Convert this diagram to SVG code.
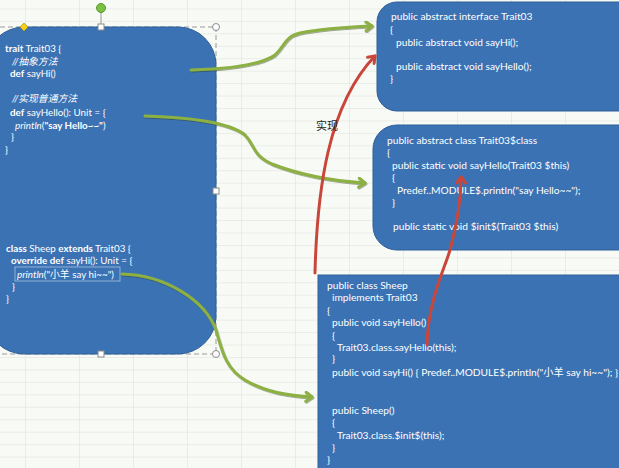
<svg xmlns="http://www.w3.org/2000/svg" width="619" height="468" viewBox="0 0 619 468">
<defs>
<pattern id="grid" x="25" y="8.4" width="54" height="12.45" patternUnits="userSpaceOnUse">
<rect width="54" height="12.45" fill="#f8faf6"/>
<path d="M0,0 H54 M0,0 V12.45" stroke="#dcdedb" stroke-width="1" fill="none"/>
</pattern>
<marker id="ag" viewBox="0 0 12 12" refX="9" refY="6" markerWidth="12" markerHeight="12" markerUnits="userSpaceOnUse" orient="auto">
<polyline points="3,1.5 9,6 3,10.5" fill="none" stroke="#8cb043" stroke-width="3" stroke-linecap="round" stroke-linejoin="round"/>
</marker>
<marker id="ar" viewBox="0 0 12 12" refX="9" refY="6" markerWidth="12" markerHeight="12" markerUnits="userSpaceOnUse" orient="auto">
<polyline points="3,1.5 9,6 3,10.5" fill="none" stroke="#c9473a" stroke-width="3" stroke-linecap="round" stroke-linejoin="round"/>
</marker>
<filter id="sh" x="-10%" y="-10%" width="120%" height="130%">
<feDropShadow dx="0.6" dy="1" stdDeviation="0.6" flood-color="#2f3a14" flood-opacity="0.45"/>
</filter>
</defs>
<style>
.node{fill:#3b72b4;stroke:#2e5e97;stroke-width:1}
.t{font-family:Lato,"Noto Sans","Noto Sans CJK SC",sans-serif;font-size:10.2px;fill:#ffffff}
.s{font-size:9.8px}
.b{font-weight:bold}
.i{font-style:italic}
.g{fill:none;stroke:#8cb043;stroke-width:3;stroke-linecap:round;filter:url(#sh)}
.r{fill:none;stroke:#c9473a;stroke-width:3;stroke-linecap:round}
.sel{fill:none;stroke:#9a9a9a;stroke-width:1;stroke-dasharray:5,3}
.h{fill:#ffffff;stroke:#8a8a8a;stroke-width:1}
.lbl{font-family:"Noto Sans CJK SC",sans-serif;font-size:11px;fill:#222222}
</style>
<rect width="619" height="468" fill="url(#grid)"/>

<g id="node-trait-scala">
<path class="sel" d="M0,27 H216 V354 H0"/>
<rect class="node" x="-14" y="27" width="230" height="327" rx="38" ry="38"/>
<text class="t s" y="52"><tspan x="5" class="b">trait</tspan> Trait03 {</text>
<text class="t s i" x="12" y="65">//抽象方法</text>
<text class="t s" x="10" y="77"><tspan class="b">def</tspan> sayHi()</text>
<text class="t s i" x="12" y="102">//实现普通方法</text>
<text class="t s" x="10" y="116"><tspan class="b">def</tspan> sayHello(): Unit = {</text>
<text class="t s" x="15" y="129"><tspan class="i">println</tspan>(<tspan class="b">"say Hello~~"</tspan>)</text>
<text class="t s" x="11" y="140">}</text>
<text class="t s" x="5" y="153">}</text>
<text class="t s" x="6" y="251.5"><tspan class="b">class</tspan>  Sheep  <tspan class="b">extends</tspan> Trait03 {</text>
<text class="t s" x="11" y="263.5"><tspan class="b">override def</tspan> sayHi(): Unit = {</text>
<rect x="15" y="267" width="105" height="14" fill="none" stroke="#a9c1de" stroke-width="0.8"/>
<text class="t s" x="17" y="277.5"><tspan class="i">println</tspan>("小羊 say hi~~")</text>
<text class="t s" x="12" y="289.5">}</text>
<text class="t s" x="6" y="301.5">}</text>
<line x1="101" y1="12" x2="101" y2="24" stroke="#9a9a9a" stroke-width="1"/>
<circle cx="101" cy="8" r="4.5" fill="#7ac043" stroke="#5a9a2a" stroke-width="1"/>
<rect class="h" x="98" y="24" width="6" height="6"/>
<polygon points="24,23 28,27 24,31 20,27" fill="#f4d21c" stroke="#b89a10" stroke-width="0.8"/>
<circle class="h" cx="216" cy="27" r="3.5"/>
<rect class="h" x="213" y="188" width="6" height="6"/>
<circle class="h" cx="216" cy="354" r="3.5"/>
<rect class="h" x="98" y="351" width="6" height="6"/>
</g>

<g id="node-interface">
<rect class="node" x="377" y="2" width="270" height="109" rx="20" ry="20"/>
<text class="t" x="391" y="20">public abstract interface Trait03</text>
<text class="t" x="390" y="33">{</text>
<text class="t" x="396" y="46">public abstract void sayHi();</text>
<text class="t" x="396" y="70">public abstract void sayHello();</text>
<text class="t" x="390" y="82">}</text>
</g>

<g id="node-trait-class">
<rect class="node" x="373" y="125" width="274" height="125" rx="24" ry="24"/>
<text class="t" x="387" y="144">public abstract class Trait03$class</text>
<text class="t" x="387" y="156">{</text>
<text class="t" x="392" y="168.5">public static void sayHello(Trait03 $this)</text>
<text class="t" x="392" y="181">{</text>
<text class="t" x="397" y="193.5">Predef..MODULE$.println("say Hello~~");</text>
<text class="t" x="392" y="205.5">}</text>
<text class="t" x="393" y="229.5">public static void $init$(Trait03 $this)</text>
</g>

<g id="node-sheep-java">
<rect class="node" x="318" y="275" width="320" height="210"/>
<text class="t" x="327" y="288.5">public class Sheep</text>
<text class="t" x="332" y="300.5">implements Trait03</text>
<text class="t" x="327" y="313.5">{</text>
<text class="t" x="332" y="326">public void sayHello()</text>
<text class="t" x="332" y="338.5">{</text>
<text class="t" x="337" y="350.5">Trait03.class.sayHello(this);</text>
<text class="t" x="332" y="362">}</text>
<text class="t" x="332" y="376">public void sayHi() { Predef..MODULE$.println("小羊 say hi~~"); }</text>
<text class="t" x="332" y="414">public Sheep()</text>
<text class="t" x="332" y="426">{</text>
<text class="t" x="337" y="438.5">Trait03.class.$init$(this);</text>
<text class="t" x="332" y="450.5">}</text>
<text class="t" x="327" y="463">}</text>
</g>

<g id="connectors">
<path class="g" marker-end="url(#ag)" d="M191,70 C230,69 262,64 275,55 C285,46 284,37 300,33 C320,29 350,27 372,26"/>
<path class="g" marker-end="url(#ag)" d="M145,116 C185,117 230,122 245,135 C255,145 252,155 272,164 C300,175 335,181 365,183"/>
<path class="g" marker-end="url(#ag)" d="M122,274 C165,275 205,300 216,330 C222,350 225,368 245,380 C265,392 290,396 312,397"/>
<path class="r" marker-end="url(#ar)" d="M315,273 C317,190 328,105 375,56"/>
<path class="r" marker-end="url(#ar)" d="M427,345 C428,300 445,268 450,250 C456,228 461,200 461,177"/>
<text class="lbl" x="327" y="130" text-anchor="middle">实现</text>
</g>
</svg>
